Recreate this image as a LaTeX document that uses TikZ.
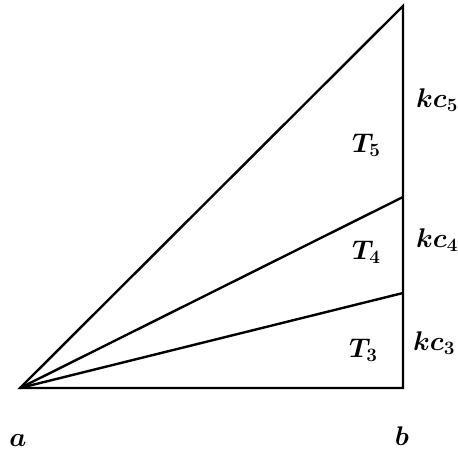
\RequirePackage{fix-cm}
\documentclass[tikz,border=0pt]{standalone}
\usepackage{amsmath,amssymb}
\usetikzlibrary{positioning}

\begin{document}
\begin{tikzpicture}[x=1pt, y=-1pt, line width=2.4pt,
  lbl/.style={inner sep=0pt, font=\fontsize{27}{32}\selectfont\boldmath}]

% Frame
\useasboundingbox (0,0) rectangle (458,450);

% Corners of the triangle
\coordinate (a) at (20,388);
\coordinate (b) at (403,388);
\coordinate (top) at (403,6);
\coordinate (p4) at (403,197);
\coordinate (p3) at (403,293);

% Triangle and fan lines
\draw[line join=miter] (a) -- (b) -- (top) -- cycle;
\draw (a) -- (p4);
\draw (a) -- (p3);

% Regions
\node[lbl, anchor=base west] (t5) at (351,152) {$T_5$};
\node[lbl, anchor=base west] (t4) at (351,259) {$T_4$};
\node[lbl, anchor=base west] (t3) at (348,357) {$T_3$};

% Side lengths
\node[lbl, anchor=base west] (kc5) at (415,107) {$kc_5$};
\node[lbl, anchor=base west] (kc4) at (415,247) {$kc_4$};
\node[lbl, anchor=base west] (kc3) at (412,350) {$kc_3$};

% End points
\node[lbl, anchor=base] (la) at (18,446) {$a$};
\node[lbl, anchor=base] (lb) at (402,445) {$b$};

\end{tikzpicture}
\end{document}
